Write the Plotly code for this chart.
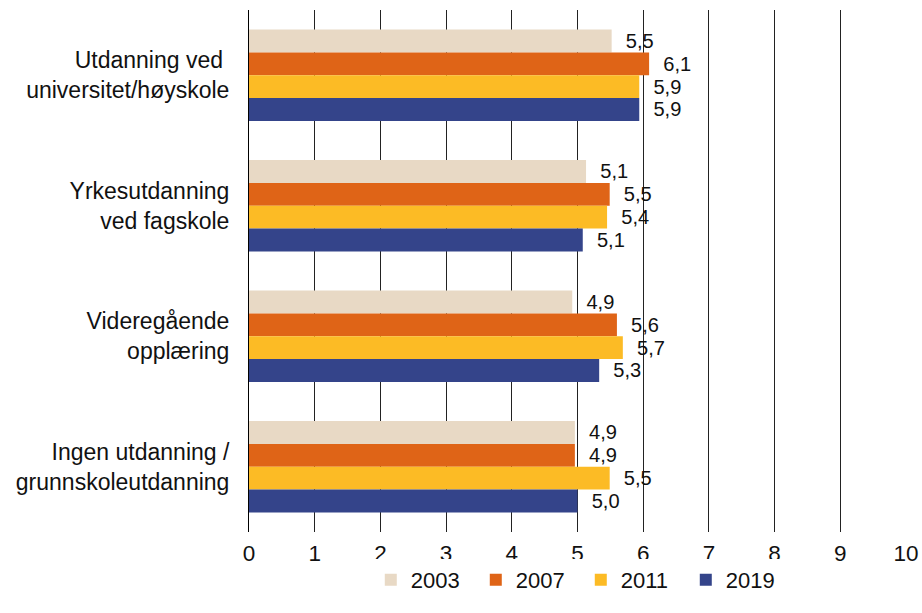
import plotly.graph_objects as go

categories = [
    "Utdanning ved <br>universitet/høyskole",
    "Yrkesutdanning<br>ved fagskole",
    "Videregående<br>opplæring",
    "Ingen utdanning /<br>grunnskoleutdanning",
]
series_names = ["2003", "2007", "2011", "2019"]
values_2003 = [5.52, 5.13, 4.92, 4.96]
values_2007 = [6.09, 5.49, 5.60, 4.96]
values_2011 = [5.94, 5.45, 5.69, 5.49]
values_2019 = [5.94, 5.08, 5.33, 5.00]
labels_2003 = ["5,5", "5,1", "4,9", "4,9"]
labels_2007 = ["6,1", "5,5", "5,6", "4,9"]
labels_2011 = ["5,9", "5,4", "5,7", "5,5"]
labels_2019 = ["5,9", "5,1", "5,3", "5,0"]
x_ticks = [0, 1, 2, 3, 4, 5, 6, 7, 8, 9, 10]

colors = ["#E8D9C5", "#DF6417", "#FCBB25", "#34448A"]
all_values = [values_2003, values_2007, values_2011, values_2019]
all_labels = [labels_2003, labels_2007, labels_2011, labels_2019]

FONT = "Liberation Sans, Arial, sans-serif"

fig = go.Figure()
for name, vals, labs, col in zip(series_names, all_values, all_labels, colors):
    fig.add_trace(go.Bar(
        y=categories, x=vals, name=name, orientation="h",
        marker=dict(color=col, line=dict(width=0)),
        text=["\u00a0\u00a0" + t for t in labs],
        textposition="outside", cliponaxis=False,
        textfont=dict(family=FONT, size=22, color="#111111"),
        hoverinfo="skip",
    ))

fig.update_layout(
    width=922, height=613,
    barmode="group", bargap=0.3, bargroupgap=0,
    plot_bgcolor="white", paper_bgcolor="white",
    font=dict(family=FONT, size=22, color="#111111"),
    margin=dict(l=249, r=16, t=10, b=81),
    showlegend=True,
    legend=dict(orientation="h", x=0.505, xanchor="center", y=-0.092, yanchor="middle",
                font=dict(family=FONT, size=22), traceorder="normal",
                entrywidth=60, entrywidthmode="pixels"),
    xaxis=dict(range=[0, 10], tickvals=x_ticks, showgrid=True, gridcolor="#222222",
               gridwidth=1, zeroline=False, showline=False, ticks="",
               ticklabelstandoff=5, tickfont=dict(size=22.5), automargin=False),
    yaxis=dict(autorange="reversed", showline=True, linecolor="#000000", linewidth=1,
               ticks="", ticklabelstandoff=14, tickfont=dict(size=23), automargin=False),
)

fig.write_html("out.html", config={"displayModeBar": False},
               post_script="document.body.style.margin='0';")
